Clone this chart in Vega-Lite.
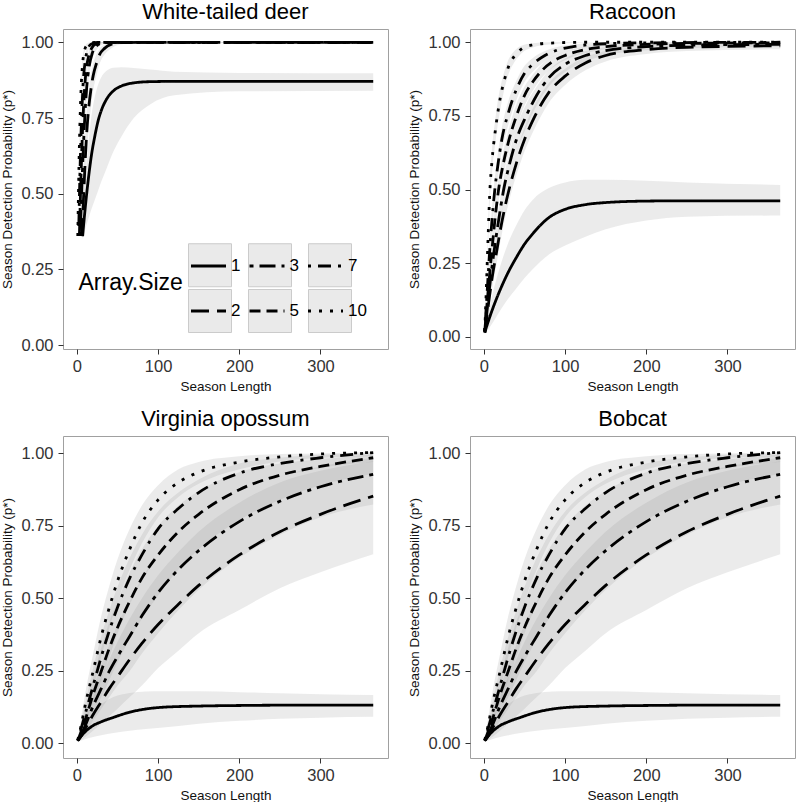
{
"$schema": "https://vega.github.io/schema/vega-lite/v6.json",
"background": "white",
"padding": {"left": 0, "top": 0, "right": 2, "bottom": 2},
"config": {
  "font": "Liberation Sans",
  "view": {"stroke": "#a0a0a0", "strokeWidth": 1},
  "axis": {"grid": false, "domain": false, "tickColor": "#333333", "tickSize": 5, "tickWidth": 1, "labelFontSize": 16.5, "labelColor": "#333333", "titleFontSize": 13.5, "titleFontWeight": "normal", "titleColor": "#111111"},
  "axisX": {"labelPadding": 4.5, "titlePadding": 4},
  "axisY": {"labelPadding": 5, "titlePadding": 6},
  "title": {"fontSize": 22, "fontWeight": "normal", "color": "#000000", "anchor": "middle", "offset": 5}
},
"datasets": {
"deer": [
{"a":1,"L":7,"p":0.36,"lo":0.35,"hi":0.38},{"a":1,"L":9,"p":0.42,"lo":0.37,"hi":0.48},{"a":1,"L":12,"p":0.5,"lo":0.4,"hi":0.6},{"a":1,"L":15,"p":0.57,"lo":0.425,"hi":0.69},{"a":1,"L":18,"p":0.63,"lo":0.45,"hi":0.76},{"a":1,"L":22,"p":0.69,"lo":0.48,"hi":0.82},{"a":1,"L":26,"p":0.74,"lo":0.51,"hi":0.86},{"a":1,"L":30,"p":0.775,"lo":0.54,"hi":0.885},{"a":1,"L":36,"p":0.81,"lo":0.58,"hi":0.905},{"a":1,"L":45,"p":0.84,"lo":0.64,"hi":0.916},{"a":1,"L":55,"p":0.856,"lo":0.69,"hi":0.918},{"a":1,"L":70,"p":0.866,"lo":0.75,"hi":0.915},{"a":1,"L":90,"p":0.87,"lo":0.795,"hi":0.91},{"a":1,"L":120,"p":0.871,"lo":0.825,"hi":0.903},{"a":1,"L":200,"p":0.871,"lo":0.838,"hi":0.899},{"a":1,"L":365,"p":0.871,"lo":0.84,"hi":0.898},
{"a":2,"L":6,"p":0.36,"lo":0.355,"hi":0.37},{"a":2,"L":8,"p":0.48,"lo":0.42,"hi":0.55},{"a":2,"L":10,"p":0.6,"lo":0.52,"hi":0.68},{"a":2,"L":12,"p":0.7,"lo":0.62,"hi":0.77},{"a":2,"L":14,"p":0.77,"lo":0.7,"hi":0.83},{"a":2,"L":17,"p":0.84,"lo":0.78,"hi":0.89},{"a":2,"L":20,"p":0.89,"lo":0.84,"hi":0.93},{"a":2,"L":24,"p":0.93,"lo":0.89,"hi":0.96},{"a":2,"L":28,"p":0.96,"lo":0.93,"hi":0.98},{"a":2,"L":34,"p":0.98,"lo":0.96,"hi":0.993},{"a":2,"L":42,"p":0.993,"lo":0.98,"hi":0.999},{"a":2,"L":55,"p":0.999,"lo":0.994,"hi":1.0},{"a":2,"L":80,"p":1.0,"lo":0.999,"hi":1.0},{"a":2,"L":365,"p":1.0,"lo":0.999,"hi":1.0},
{"a":3,"L":4,"p":0.36,"lo":0.355,"hi":0.37},{"a":3,"L":6,"p":0.52,"lo":0.47,"hi":0.57},{"a":3,"L":8,"p":0.66,"lo":0.61,"hi":0.71},{"a":3,"L":10,"p":0.77,"lo":0.72,"hi":0.81},{"a":3,"L":12,"p":0.85,"lo":0.81,"hi":0.88},{"a":3,"L":15,"p":0.92,"lo":0.89,"hi":0.945},{"a":3,"L":19,"p":0.965,"lo":0.945,"hi":0.98},{"a":3,"L":24,"p":0.988,"lo":0.975,"hi":0.995},{"a":3,"L":32,"p":0.998,"lo":0.993,"hi":1.0},{"a":3,"L":50,"p":1.0,"lo":0.999,"hi":1.0},{"a":3,"L":365,"p":1.0,"lo":0.999,"hi":1.0},
{"a":5,"L":3,"p":0.36,"lo":0.355,"hi":0.37},{"a":5,"L":5,"p":0.56,"lo":0.52,"hi":0.6},{"a":5,"L":7,"p":0.72,"lo":0.68,"hi":0.76},{"a":5,"L":9,"p":0.83,"lo":0.8,"hi":0.86},{"a":5,"L":11,"p":0.9,"lo":0.87,"hi":0.92},{"a":5,"L":14,"p":0.95,"lo":0.93,"hi":0.965},{"a":5,"L":18,"p":0.98,"lo":0.97,"hi":0.99},{"a":5,"L":24,"p":0.996,"lo":0.99,"hi":0.999},{"a":5,"L":35,"p":1.0,"lo":0.999,"hi":1.0},{"a":5,"L":365,"p":1.0,"lo":0.999,"hi":1.0},
{"a":7,"L":2,"p":0.36,"lo":0.355,"hi":0.37},{"a":7,"L":4,"p":0.6,"lo":0.56,"hi":0.64},{"a":7,"L":6,"p":0.77,"lo":0.74,"hi":0.8},{"a":7,"L":8,"p":0.88,"lo":0.86,"hi":0.9},{"a":7,"L":10,"p":0.935,"lo":0.92,"hi":0.95},{"a":7,"L":13,"p":0.975,"lo":0.965,"hi":0.985},{"a":7,"L":17,"p":0.993,"lo":0.988,"hi":0.997},{"a":7,"L":25,"p":1.0,"lo":0.998,"hi":1.0},{"a":7,"L":365,"p":1.0,"lo":0.999,"hi":1.0},
{"a":10,"L":1,"p":0.36,"lo":0.355,"hi":0.37},{"a":10,"L":3,"p":0.66,"lo":0.62,"hi":0.7},{"a":10,"L":5,"p":0.84,"lo":0.81,"hi":0.87},{"a":10,"L":7,"p":0.93,"lo":0.91,"hi":0.95},{"a":10,"L":9,"p":0.97,"lo":0.96,"hi":0.98},{"a":10,"L":12,"p":0.99,"lo":0.985,"hi":0.995},{"a":10,"L":16,"p":0.998,"lo":0.995,"hi":1.0},{"a":10,"L":25,"p":1.0,"lo":0.999,"hi":1.0},{"a":10,"L":365,"p":1.0,"lo":0.999,"hi":1.0}
],
"raccoon": [
{"a":1,"L":1,"p":0.015,"lo":0.01,"hi":0.02},{"a":1,"L":5,"p":0.05,"lo":0.025,"hi":0.08},{"a":1,"L":10,"p":0.09,"lo":0.045,"hi":0.14},{"a":1,"L":20,"p":0.16,"lo":0.09,"hi":0.24},{"a":1,"L":30,"p":0.22,"lo":0.13,"hi":0.32},{"a":1,"L":40,"p":0.27,"lo":0.165,"hi":0.38},{"a":1,"L":50,"p":0.315,"lo":0.2,"hi":0.43},{"a":1,"L":60,"p":0.35,"lo":0.23,"hi":0.465},{"a":1,"L":80,"p":0.405,"lo":0.28,"hi":0.505},{"a":1,"L":100,"p":0.433,"lo":0.31,"hi":0.524},{"a":1,"L":125,"p":0.449,"lo":0.34,"hi":0.533},{"a":1,"L":150,"p":0.456,"lo":0.365,"hi":0.533},{"a":1,"L":200,"p":0.461,"lo":0.395,"hi":0.53},{"a":1,"L":250,"p":0.462,"lo":0.408,"hi":0.524},{"a":1,"L":365,"p":0.462,"lo":0.412,"hi":0.516},
{"a":2,"L":1,"p":0.015,"lo":0.01,"hi":0.02},{"a":2,"L":5,"p":0.1,"lo":0.075,"hi":0.125},{"a":2,"L":10,"p":0.2,"lo":0.165,"hi":0.235},{"a":2,"L":15,"p":0.28,"lo":0.24,"hi":0.32},{"a":2,"L":20,"p":0.36,"lo":0.32,"hi":0.4},{"a":2,"L":25,"p":0.43,"lo":0.39,"hi":0.47},{"a":2,"L":30,"p":0.49,"lo":0.45,"hi":0.53},{"a":2,"L":40,"p":0.59,"lo":0.55,"hi":0.63},{"a":2,"L":50,"p":0.67,"lo":0.63,"hi":0.71},{"a":2,"L":62,"p":0.745,"lo":0.705,"hi":0.785},{"a":2,"L":80,"p":0.83,"lo":0.795,"hi":0.862},{"a":2,"L":100,"p":0.885,"lo":0.855,"hi":0.91},{"a":2,"L":125,"p":0.93,"lo":0.905,"hi":0.95},{"a":2,"L":150,"p":0.955,"lo":0.935,"hi":0.97},{"a":2,"L":200,"p":0.975,"lo":0.96,"hi":0.986},{"a":2,"L":250,"p":0.983,"lo":0.97,"hi":0.992},{"a":2,"L":365,"p":0.988,"lo":0.976,"hi":0.996},
{"a":3,"L":1,"p":0.015,"lo":0.01,"hi":0.02},{"a":3,"L":5,"p":0.12,"lo":0.09,"hi":0.15},{"a":3,"L":10,"p":0.24,"lo":0.2,"hi":0.28},{"a":3,"L":15,"p":0.34,"lo":0.3,"hi":0.38},{"a":3,"L":20,"p":0.43,"lo":0.39,"hi":0.47},{"a":3,"L":25,"p":0.51,"lo":0.47,"hi":0.55},{"a":3,"L":30,"p":0.57,"lo":0.53,"hi":0.61},{"a":3,"L":40,"p":0.67,"lo":0.63,"hi":0.71},{"a":3,"L":52,"p":0.75,"lo":0.71,"hi":0.79},{"a":3,"L":65,"p":0.82,"lo":0.785,"hi":0.85},{"a":3,"L":80,"p":0.88,"lo":0.85,"hi":0.905},{"a":3,"L":100,"p":0.925,"lo":0.9,"hi":0.945},{"a":3,"L":125,"p":0.955,"lo":0.935,"hi":0.97},{"a":3,"L":150,"p":0.972,"lo":0.956,"hi":0.983},{"a":3,"L":200,"p":0.985,"lo":0.973,"hi":0.993},{"a":3,"L":250,"p":0.99,"lo":0.98,"hi":0.996},{"a":3,"L":365,"p":0.993,"lo":0.984,"hi":0.998},
{"a":5,"L":1,"p":0.02,"lo":0.015,"hi":0.025},{"a":5,"L":5,"p":0.15,"lo":0.12,"hi":0.18},{"a":5,"L":10,"p":0.3,"lo":0.26,"hi":0.34},{"a":5,"L":14,"p":0.41,"lo":0.37,"hi":0.45},{"a":5,"L":18,"p":0.5,"lo":0.46,"hi":0.54},{"a":5,"L":24,"p":0.59,"lo":0.55,"hi":0.63},{"a":5,"L":30,"p":0.66,"lo":0.62,"hi":0.7},{"a":5,"L":40,"p":0.75,"lo":0.71,"hi":0.79},{"a":5,"L":50,"p":0.82,"lo":0.785,"hi":0.85},{"a":5,"L":60,"p":0.865,"lo":0.835,"hi":0.89},{"a":5,"L":70,"p":0.9,"lo":0.875,"hi":0.922},{"a":5,"L":85,"p":0.935,"lo":0.915,"hi":0.952},{"a":5,"L":100,"p":0.955,"lo":0.94,"hi":0.968},{"a":5,"L":125,"p":0.975,"lo":0.963,"hi":0.985},{"a":5,"L":150,"p":0.985,"lo":0.976,"hi":0.992},{"a":5,"L":200,"p":0.993,"lo":0.987,"hi":0.997},{"a":5,"L":250,"p":0.996,"lo":0.992,"hi":0.999},{"a":5,"L":365,"p":0.998,"lo":0.994,"hi":1.0},
{"a":7,"L":1,"p":0.02,"lo":0.015,"hi":0.025},{"a":7,"L":5,"p":0.2,"lo":0.17,"hi":0.23},{"a":7,"L":8,"p":0.33,"lo":0.29,"hi":0.37},{"a":7,"L":10,"p":0.4,"lo":0.36,"hi":0.44},{"a":7,"L":13,"p":0.49,"lo":0.45,"hi":0.53},{"a":7,"L":17,"p":0.58,"lo":0.54,"hi":0.62},{"a":7,"L":22,"p":0.67,"lo":0.63,"hi":0.71},{"a":7,"L":30,"p":0.76,"lo":0.72,"hi":0.8},{"a":7,"L":40,"p":0.84,"lo":0.805,"hi":0.87},{"a":7,"L":50,"p":0.895,"lo":0.865,"hi":0.92},{"a":7,"L":60,"p":0.925,"lo":0.9,"hi":0.946},{"a":7,"L":75,"p":0.955,"lo":0.935,"hi":0.97},{"a":7,"L":90,"p":0.973,"lo":0.958,"hi":0.984},{"a":7,"L":110,"p":0.985,"lo":0.975,"hi":0.992},{"a":7,"L":150,"p":0.995,"lo":0.99,"hi":0.998},{"a":7,"L":200,"p":0.998,"lo":0.995,"hi":1.0},{"a":7,"L":365,"p":1.0,"lo":0.998,"hi":1.0},
{"a":10,"L":1,"p":0.02,"lo":0.015,"hi":0.025},{"a":10,"L":3,"p":0.17,"lo":0.14,"hi":0.2},{"a":10,"L":5,"p":0.33,"lo":0.29,"hi":0.37},{"a":10,"L":7,"p":0.48,"lo":0.44,"hi":0.52},{"a":10,"L":10,"p":0.6,"lo":0.56,"hi":0.64},{"a":10,"L":14,"p":0.7,"lo":0.66,"hi":0.74},{"a":10,"L":17,"p":0.76,"lo":0.72,"hi":0.8},{"a":10,"L":20,"p":0.81,"lo":0.77,"hi":0.845},{"a":10,"L":25,"p":0.87,"lo":0.84,"hi":0.9},{"a":10,"L":30,"p":0.915,"lo":0.89,"hi":0.94},{"a":10,"L":38,"p":0.955,"lo":0.935,"hi":0.972},{"a":10,"L":46,"p":0.977,"lo":0.962,"hi":0.988},{"a":10,"L":60,"p":0.991,"lo":0.982,"hi":0.997},{"a":10,"L":80,"p":0.997,"lo":0.992,"hi":1.0},{"a":10,"L":120,"p":1.0,"lo":0.998,"hi":1.0},{"a":10,"L":365,"p":1.0,"lo":0.999,"hi":1.0}
],
"opossum": [
{"a":1,"L":1,"p":0.01,"lo":0.005,"hi":0.014},{"a":1,"L":5,"p":0.025,"lo":0.01,"hi":0.04},{"a":1,"L":10,"p":0.04,"lo":0.015,"hi":0.07},{"a":1,"L":20,"p":0.062,"lo":0.022,"hi":0.107},{"a":1,"L":30,"p":0.075,"lo":0.028,"hi":0.135},{"a":1,"L":45,"p":0.09,"lo":0.036,"hi":0.16},{"a":1,"L":65,"p":0.108,"lo":0.044,"hi":0.174},{"a":1,"L":85,"p":0.119,"lo":0.05,"hi":0.179},{"a":1,"L":106,"p":0.125,"lo":0.055,"hi":0.18},{"a":1,"L":150,"p":0.129,"lo":0.068,"hi":0.18},{"a":1,"L":200,"p":0.131,"lo":0.078,"hi":0.177},{"a":1,"L":250,"p":0.132,"lo":0.085,"hi":0.173},{"a":1,"L":300,"p":0.132,"lo":0.089,"hi":0.17},{"a":1,"L":365,"p":0.132,"lo":0.092,"hi":0.167},
{"a":2,"L":1,"p":0.01,"lo":0.005,"hi":0.015},{"a":2,"L":5,"p":0.025,"lo":0.012,"hi":0.04},{"a":2,"L":10,"p":0.05,"lo":0.022,"hi":0.08},{"a":2,"L":20,"p":0.1,"lo":0.045,"hi":0.16},{"a":2,"L":30,"p":0.145,"lo":0.07,"hi":0.23},{"a":2,"L":40,"p":0.19,"lo":0.095,"hi":0.29},{"a":2,"L":50,"p":0.23,"lo":0.12,"hi":0.35},{"a":2,"L":65,"p":0.29,"lo":0.16,"hi":0.43},{"a":2,"L":80,"p":0.345,"lo":0.2,"hi":0.5},{"a":2,"L":100,"p":0.41,"lo":0.26,"hi":0.58},{"a":2,"L":125,"p":0.48,"lo":0.32,"hi":0.66},{"a":2,"L":150,"p":0.545,"lo":0.38,"hi":0.73},{"a":2,"L":200,"p":0.65,"lo":0.46,"hi":0.83},{"a":2,"L":250,"p":0.73,"lo":0.535,"hi":0.9},{"a":2,"L":300,"p":0.79,"lo":0.59,"hi":0.94},{"a":2,"L":365,"p":0.853,"lo":0.652,"hi":0.973},
{"a":3,"L":1,"p":0.01,"lo":0.005,"hi":0.015},{"a":3,"L":5,"p":0.03,"lo":0.018,"hi":0.045},{"a":3,"L":10,"p":0.06,"lo":0.035,"hi":0.09},{"a":3,"L":20,"p":0.13,"lo":0.08,"hi":0.19},{"a":3,"L":30,"p":0.19,"lo":0.12,"hi":0.27},{"a":3,"L":40,"p":0.25,"lo":0.16,"hi":0.34},{"a":3,"L":50,"p":0.3,"lo":0.2,"hi":0.41},{"a":3,"L":65,"p":0.37,"lo":0.25,"hi":0.49},{"a":3,"L":80,"p":0.44,"lo":0.31,"hi":0.57},{"a":3,"L":100,"p":0.52,"lo":0.38,"hi":0.65},{"a":3,"L":125,"p":0.6,"lo":0.46,"hi":0.73},{"a":3,"L":150,"p":0.665,"lo":0.53,"hi":0.79},{"a":3,"L":200,"p":0.765,"lo":0.64,"hi":0.87},{"a":3,"L":250,"p":0.835,"lo":0.72,"hi":0.92},{"a":3,"L":300,"p":0.885,"lo":0.78,"hi":0.955},{"a":3,"L":365,"p":0.928,"lo":0.824,"hi":0.985},
{"a":5,"L":1,"p":0.01,"lo":0.005,"hi":0.015},{"a":5,"L":5,"p":0.04,"lo":0.025,"hi":0.06},{"a":5,"L":10,"p":0.08,"lo":0.05,"hi":0.11},{"a":5,"L":20,"p":0.17,"lo":0.11,"hi":0.23},{"a":5,"L":30,"p":0.25,"lo":0.16,"hi":0.33},{"a":5,"L":40,"p":0.33,"lo":0.22,"hi":0.42},{"a":5,"L":50,"p":0.4,"lo":0.28,"hi":0.49},{"a":5,"L":65,"p":0.49,"lo":0.36,"hi":0.59},{"a":5,"L":80,"p":0.57,"lo":0.43,"hi":0.67},{"a":5,"L":100,"p":0.65,"lo":0.51,"hi":0.75},{"a":5,"L":125,"p":0.73,"lo":0.6,"hi":0.82},{"a":5,"L":150,"p":0.79,"lo":0.67,"hi":0.87},{"a":5,"L":200,"p":0.875,"lo":0.77,"hi":0.935},{"a":5,"L":250,"p":0.925,"lo":0.84,"hi":0.965},{"a":5,"L":300,"p":0.955,"lo":0.89,"hi":0.98},{"a":5,"L":365,"p":0.985,"lo":0.93,"hi":0.995},
{"a":7,"L":1,"p":0.01,"lo":0.006,"hi":0.014},{"a":7,"L":5,"p":0.05,"lo":0.03,"hi":0.07},{"a":7,"L":10,"p":0.1,"lo":0.07,"hi":0.135},{"a":7,"L":20,"p":0.2,"lo":0.14,"hi":0.26},{"a":7,"L":30,"p":0.3,"lo":0.22,"hi":0.37},{"a":7,"L":40,"p":0.39,"lo":0.3,"hi":0.46},{"a":7,"L":50,"p":0.47,"lo":0.38,"hi":0.54},{"a":7,"L":65,"p":0.57,"lo":0.48,"hi":0.64},{"a":7,"L":80,"p":0.65,"lo":0.56,"hi":0.72},{"a":7,"L":100,"p":0.74,"lo":0.65,"hi":0.8},{"a":7,"L":125,"p":0.81,"lo":0.73,"hi":0.865},{"a":7,"L":150,"p":0.865,"lo":0.79,"hi":0.91},{"a":7,"L":200,"p":0.932,"lo":0.87,"hi":0.965},{"a":7,"L":250,"p":0.965,"lo":0.92,"hi":0.985},{"a":7,"L":300,"p":0.985,"lo":0.95,"hi":0.995},{"a":7,"L":365,"p":1.003,"lo":0.97,"hi":1.0},
{"a":10,"L":1,"p":0.012,"lo":0.008,"hi":0.016},{"a":10,"L":5,"p":0.06,"lo":0.04,"hi":0.085},{"a":10,"L":10,"p":0.13,"lo":0.09,"hi":0.17},{"a":10,"L":20,"p":0.25,"lo":0.19,"hi":0.31},{"a":10,"L":30,"p":0.37,"lo":0.3,"hi":0.44},{"a":10,"L":40,"p":0.47,"lo":0.4,"hi":0.545},{"a":10,"L":50,"p":0.56,"lo":0.49,"hi":0.635},{"a":10,"L":65,"p":0.67,"lo":0.6,"hi":0.74},{"a":10,"L":80,"p":0.76,"lo":0.69,"hi":0.82},{"a":10,"L":100,"p":0.84,"lo":0.78,"hi":0.89},{"a":10,"L":125,"p":0.9,"lo":0.85,"hi":0.945},{"a":10,"L":150,"p":0.935,"lo":0.895,"hi":0.97},{"a":10,"L":200,"p":0.97,"lo":0.945,"hi":0.99},{"a":10,"L":250,"p":0.988,"lo":0.972,"hi":0.998},{"a":10,"L":300,"p":0.998,"lo":0.985,"hi":1.0},{"a":10,"L":365,"p":1.003,"lo":0.99,"hi":1.005}
],
"bobcat": [
{"a":1,"L":1,"p":0.01,"lo":0.005,"hi":0.014},{"a":1,"L":5,"p":0.025,"lo":0.01,"hi":0.04},{"a":1,"L":10,"p":0.04,"lo":0.015,"hi":0.07},{"a":1,"L":20,"p":0.062,"lo":0.022,"hi":0.107},{"a":1,"L":30,"p":0.075,"lo":0.028,"hi":0.135},{"a":1,"L":45,"p":0.09,"lo":0.036,"hi":0.16},{"a":1,"L":65,"p":0.108,"lo":0.044,"hi":0.174},{"a":1,"L":85,"p":0.119,"lo":0.05,"hi":0.179},{"a":1,"L":106,"p":0.125,"lo":0.055,"hi":0.18},{"a":1,"L":150,"p":0.129,"lo":0.068,"hi":0.18},{"a":1,"L":200,"p":0.131,"lo":0.078,"hi":0.177},{"a":1,"L":250,"p":0.132,"lo":0.085,"hi":0.173},{"a":1,"L":300,"p":0.132,"lo":0.089,"hi":0.17},{"a":1,"L":365,"p":0.132,"lo":0.092,"hi":0.167},
{"a":2,"L":1,"p":0.01,"lo":0.005,"hi":0.015},{"a":2,"L":5,"p":0.025,"lo":0.012,"hi":0.04},{"a":2,"L":10,"p":0.05,"lo":0.022,"hi":0.08},{"a":2,"L":20,"p":0.1,"lo":0.045,"hi":0.16},{"a":2,"L":30,"p":0.145,"lo":0.07,"hi":0.23},{"a":2,"L":40,"p":0.19,"lo":0.095,"hi":0.29},{"a":2,"L":50,"p":0.23,"lo":0.12,"hi":0.35},{"a":2,"L":65,"p":0.29,"lo":0.16,"hi":0.43},{"a":2,"L":80,"p":0.345,"lo":0.2,"hi":0.5},{"a":2,"L":100,"p":0.41,"lo":0.26,"hi":0.58},{"a":2,"L":125,"p":0.48,"lo":0.32,"hi":0.66},{"a":2,"L":150,"p":0.545,"lo":0.38,"hi":0.73},{"a":2,"L":200,"p":0.65,"lo":0.46,"hi":0.83},{"a":2,"L":250,"p":0.73,"lo":0.535,"hi":0.9},{"a":2,"L":300,"p":0.79,"lo":0.59,"hi":0.94},{"a":2,"L":365,"p":0.853,"lo":0.652,"hi":0.973},
{"a":3,"L":1,"p":0.01,"lo":0.005,"hi":0.015},{"a":3,"L":5,"p":0.03,"lo":0.018,"hi":0.045},{"a":3,"L":10,"p":0.06,"lo":0.035,"hi":0.09},{"a":3,"L":20,"p":0.13,"lo":0.08,"hi":0.19},{"a":3,"L":30,"p":0.19,"lo":0.12,"hi":0.27},{"a":3,"L":40,"p":0.25,"lo":0.16,"hi":0.34},{"a":3,"L":50,"p":0.3,"lo":0.2,"hi":0.41},{"a":3,"L":65,"p":0.37,"lo":0.25,"hi":0.49},{"a":3,"L":80,"p":0.44,"lo":0.31,"hi":0.57},{"a":3,"L":100,"p":0.52,"lo":0.38,"hi":0.65},{"a":3,"L":125,"p":0.6,"lo":0.46,"hi":0.73},{"a":3,"L":150,"p":0.665,"lo":0.53,"hi":0.79},{"a":3,"L":200,"p":0.765,"lo":0.64,"hi":0.87},{"a":3,"L":250,"p":0.835,"lo":0.72,"hi":0.92},{"a":3,"L":300,"p":0.885,"lo":0.78,"hi":0.955},{"a":3,"L":365,"p":0.928,"lo":0.824,"hi":0.985},
{"a":5,"L":1,"p":0.01,"lo":0.005,"hi":0.015},{"a":5,"L":5,"p":0.04,"lo":0.025,"hi":0.06},{"a":5,"L":10,"p":0.08,"lo":0.05,"hi":0.11},{"a":5,"L":20,"p":0.17,"lo":0.11,"hi":0.23},{"a":5,"L":30,"p":0.25,"lo":0.16,"hi":0.33},{"a":5,"L":40,"p":0.33,"lo":0.22,"hi":0.42},{"a":5,"L":50,"p":0.4,"lo":0.28,"hi":0.49},{"a":5,"L":65,"p":0.49,"lo":0.36,"hi":0.59},{"a":5,"L":80,"p":0.57,"lo":0.43,"hi":0.67},{"a":5,"L":100,"p":0.65,"lo":0.51,"hi":0.75},{"a":5,"L":125,"p":0.73,"lo":0.6,"hi":0.82},{"a":5,"L":150,"p":0.79,"lo":0.67,"hi":0.87},{"a":5,"L":200,"p":0.875,"lo":0.77,"hi":0.935},{"a":5,"L":250,"p":0.925,"lo":0.84,"hi":0.965},{"a":5,"L":300,"p":0.955,"lo":0.89,"hi":0.98},{"a":5,"L":365,"p":0.985,"lo":0.93,"hi":0.995},
{"a":7,"L":1,"p":0.01,"lo":0.006,"hi":0.014},{"a":7,"L":5,"p":0.05,"lo":0.03,"hi":0.07},{"a":7,"L":10,"p":0.1,"lo":0.07,"hi":0.135},{"a":7,"L":20,"p":0.2,"lo":0.14,"hi":0.26},{"a":7,"L":30,"p":0.3,"lo":0.22,"hi":0.37},{"a":7,"L":40,"p":0.39,"lo":0.3,"hi":0.46},{"a":7,"L":50,"p":0.47,"lo":0.38,"hi":0.54},{"a":7,"L":65,"p":0.57,"lo":0.48,"hi":0.64},{"a":7,"L":80,"p":0.65,"lo":0.56,"hi":0.72},{"a":7,"L":100,"p":0.74,"lo":0.65,"hi":0.8},{"a":7,"L":125,"p":0.81,"lo":0.73,"hi":0.865},{"a":7,"L":150,"p":0.865,"lo":0.79,"hi":0.91},{"a":7,"L":200,"p":0.932,"lo":0.87,"hi":0.965},{"a":7,"L":250,"p":0.965,"lo":0.92,"hi":0.985},{"a":7,"L":300,"p":0.985,"lo":0.95,"hi":0.995},{"a":7,"L":365,"p":1.003,"lo":0.97,"hi":1.0},
{"a":10,"L":1,"p":0.012,"lo":0.008,"hi":0.016},{"a":10,"L":5,"p":0.06,"lo":0.04,"hi":0.085},{"a":10,"L":10,"p":0.13,"lo":0.09,"hi":0.17},{"a":10,"L":20,"p":0.25,"lo":0.19,"hi":0.31},{"a":10,"L":30,"p":0.37,"lo":0.3,"hi":0.44},{"a":10,"L":40,"p":0.47,"lo":0.4,"hi":0.545},{"a":10,"L":50,"p":0.56,"lo":0.49,"hi":0.635},{"a":10,"L":65,"p":0.67,"lo":0.6,"hi":0.74},{"a":10,"L":80,"p":0.76,"lo":0.69,"hi":0.82},{"a":10,"L":100,"p":0.84,"lo":0.78,"hi":0.89},{"a":10,"L":125,"p":0.9,"lo":0.85,"hi":0.945},{"a":10,"L":150,"p":0.935,"lo":0.895,"hi":0.97},{"a":10,"L":200,"p":0.97,"lo":0.945,"hi":0.99},{"a":10,"L":250,"p":0.988,"lo":0.972,"hi":0.998},{"a":10,"L":300,"p":0.998,"lo":0.985,"hi":1.0},{"a":10,"L":365,"p":1.003,"lo":0.99,"hi":1.005}
]
},
"columns": 2,
"spacing": {"row": 14, "column": 18},
"concat": [
{
 "title": "White-tailed deer", "width": 325, "height": 320,
 "data": {"name": "deer"},
 "layer": [
  {"mark": {"type": "area", "opacity": 0.2, "interpolate": "monotone"},
   "encoding": {
    "x": {"field": "L", "type": "quantitative", "scale": {"domain": [-17.2, 383.2], "nice": false, "zero": false}, "axis": {"values": [0, 100, 200, 300], "title": "Season Length"}},
    "y": {"field": "lo", "type": "quantitative", "scale": {"domain": [-0.013, 1.044], "nice": false, "zero": false}, "axis": {"values": [0, 0.25, 0.5, 0.75, 1], "format": ".2f", "title": "Season Detection Probability (p*)"}},
    "y2": {"field": "hi"},
    "fill": {"field": "a", "type": "nominal", "scale": {"domain": [1, 3, 7, 2, 5, 10], "range": ["#999999", "#999999", "#999999", "#999999", "#999999", "#999999"]},
      "legend": {"orient": "none", "legendX": 125, "legendY": 214, "title": null, "columns": 3, "values": [1, 2, 3, 5, 7, 10], "labelExpr": "''", "symbolType": "square", "symbolSize": 1849, "symbolStrokeColor": "#000000", "symbolStrokeWidth": 1, "symbolOpacity": 0.2, "labelFontSize": 17, "labelOffset": 3, "columnPadding": 11, "rowPadding": -4, "zindex": 0}}
   }},
  {"mark": {"type": "line", "color": "black", "strokeWidth": 2.8, "interpolate": "monotone"},
   "encoding": {
    "x": {"field": "L", "type": "quantitative", "axis": {"values": [0, 100, 200, 300], "title": "Season Length"}},
    "y": {"field": "p", "type": "quantitative", "axis": {"values": [0, 0.25, 0.5, 0.75, 1], "format": ".2f", "title": "Season Detection Probability (p*)"}},
    "strokeDash": {"field": "a", "type": "nominal", "scale": {"domain": [1, 2, 3, 5, 7, 10], "range": [[1, 0], [18, 8], [4, 6, 16, 6], [11, 6], [3, 7, 13, 7], [3, 8]]},
      "legend": {"orient": "none", "legendX": 15.5, "legendY": 218, "title": "Array.Size", "titleOrient": "left", "titleFontSize": 23, "titleFontWeight": "normal", "titleColor": "#000000", "titlePadding": 6, "titleAnchor": "middle", "titleBaseline": "middle", "columns": 3, "symbolType": "stroke", "symbolSize": 1225, "symbolStrokeWidth": 2.8, "symbolStrokeColor": "#000000", "labelFontSize": 17, "labelColor": "#000000", "labelOffset": 3.5, "columnPadding": 2.5, "rowPadding": 18, "zindex": 1}}
   }}
 ]
},
{
 "title": "Raccoon", "width": 325, "height": 320,
 "data": {"name": "raccoon"},
 "layer": [
  {"mark": {"type": "area", "opacity": 0.2, "interpolate": "monotone"},
   "encoding": {
    "x": {"field": "L", "type": "quantitative", "scale": {"domain": [-17.2, 383.2], "nice": false, "zero": false}, "axis": {"values": [0, 100, 200, 300], "title": "Season Length"}},
    "y": {"field": "lo", "type": "quantitative", "scale": {"domain": [-0.041, 1.045], "nice": false, "zero": false}, "axis": {"values": [0, 0.25, 0.5, 0.75, 1], "format": ".2f", "title": "Season Detection Probability (p*)"}},
    "y2": {"field": "hi"},
    "fill": {"field": "a", "type": "nominal", "scale": {"domain": [1, 3, 7, 2, 5, 10], "range": ["#999999", "#999999", "#999999", "#999999", "#999999", "#999999"]}}
   }},
  {"mark": {"type": "line", "color": "black", "strokeWidth": 2.8, "interpolate": "monotone"},
   "encoding": {
    "x": {"field": "L", "type": "quantitative", "axis": {"values": [0, 100, 200, 300], "title": "Season Length"}},
    "y": {"field": "p", "type": "quantitative", "axis": {"values": [0, 0.25, 0.5, 0.75, 1], "format": ".2f", "title": "Season Detection Probability (p*)"}},
    "strokeDash": {"field": "a", "type": "nominal", "scale": {"domain": [1, 2, 3, 5, 7, 10], "range": [[1, 0], [18, 8], [4, 6, 16, 6], [11, 6], [3, 7, 13, 7], [3, 8]]}}
   }}
 ]
},
{
 "title": "Virginia opossum", "width": 325, "height": 322,
 "data": {"name": "opossum"},
 "layer": [
  {"mark": {"type": "area", "opacity": 0.2, "interpolate": "monotone"},
   "encoding": {
    "x": {"field": "L", "type": "quantitative", "scale": {"domain": [-17.2, 383.2], "nice": false, "zero": false}, "axis": {"values": [0, 100, 200, 300], "title": "Season Length"}},
    "y": {"field": "lo", "type": "quantitative", "scale": {"domain": [-0.05, 1.06], "nice": false, "zero": false}, "axis": {"values": [0, 0.25, 0.5, 0.75, 1], "format": ".2f", "title": "Season Detection Probability (p*)"}},
    "y2": {"field": "hi"},
    "fill": {"field": "a", "type": "nominal", "scale": {"domain": [1, 3, 7, 2, 5, 10], "range": ["#999999", "#999999", "#999999", "#999999", "#999999", "#999999"]}}
   }},
  {"mark": {"type": "line", "color": "black", "strokeWidth": 2.8, "interpolate": "monotone"},
   "encoding": {
    "x": {"field": "L", "type": "quantitative", "axis": {"values": [0, 100, 200, 300], "title": "Season Length"}},
    "y": {"field": "p", "type": "quantitative", "axis": {"values": [0, 0.25, 0.5, 0.75, 1], "format": ".2f", "title": "Season Detection Probability (p*)"}},
    "strokeDash": {"field": "a", "type": "nominal", "scale": {"domain": [1, 2, 3, 5, 7, 10], "range": [[1, 0], [18, 8], [4, 6, 16, 6], [11, 6], [3, 7, 13, 7], [3, 8]]}}
   }}
 ]
},
{
 "title": "Bobcat", "width": 325, "height": 322,
 "data": {"name": "bobcat"},
 "layer": [
  {"mark": {"type": "area", "opacity": 0.2, "interpolate": "monotone"},
   "encoding": {
    "x": {"field": "L", "type": "quantitative", "scale": {"domain": [-17.2, 383.2], "nice": false, "zero": false}, "axis": {"values": [0, 100, 200, 300], "title": "Season Length"}},
    "y": {"field": "lo", "type": "quantitative", "scale": {"domain": [-0.05, 1.06], "nice": false, "zero": false}, "axis": {"values": [0, 0.25, 0.5, 0.75, 1], "format": ".2f", "title": "Season Detection Probability (p*)"}},
    "y2": {"field": "hi"},
    "fill": {"field": "a", "type": "nominal", "scale": {"domain": [1, 3, 7, 2, 5, 10], "range": ["#999999", "#999999", "#999999", "#999999", "#999999", "#999999"]}}
   }},
  {"mark": {"type": "line", "color": "black", "strokeWidth": 2.8, "interpolate": "monotone"},
   "encoding": {
    "x": {"field": "L", "type": "quantitative", "axis": {"values": [0, 100, 200, 300], "title": "Season Length"}},
    "y": {"field": "p", "type": "quantitative", "axis": {"values": [0, 0.25, 0.5, 0.75, 1], "format": ".2f", "title": "Season Detection Probability (p*)"}},
    "strokeDash": {"field": "a", "type": "nominal", "scale": {"domain": [1, 2, 3, 5, 7, 10], "range": [[1, 0], [18, 8], [4, 6, 16, 6], [11, 6], [3, 7, 13, 7], [3, 8]]}}
   }}
 ]
}
]
}
